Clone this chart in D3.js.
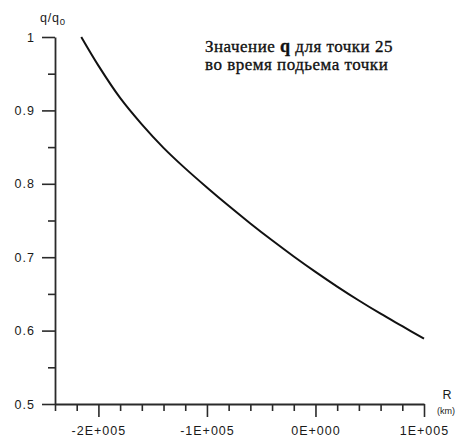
<!DOCTYPE html>
<html>
<head>
<meta charset="utf-8">
<script src="https://cdn.jsdelivr.net/npm/d3@7"></script>
<style>
  html, body { margin: 0; padding: 0; background: #fff; }
  svg { display: block; }
  .tick text { font-family: Arial, "Liberation Sans", sans-serif; font-size: 12.5px; fill: #1a1a1a; letter-spacing: 1px; }
</style>
</head>
<body>
<svg id="chart" width="457" height="438"></svg>
<script>
// Distance R (km) and normalised charge q/q0 along the curve
const rValues = [-215800, -200000, -180000, -160000, -140000, -120000, -100000, -80000,
                 -60000, -40000, -20000, 0, 20000, 40000, 60000, 80000, 100000];
const qValues = [1.000, 0.961, 0.917, 0.881, 0.849, 0.821, 0.795, 0.770,
                 0.746, 0.723, 0.701, 0.680, 0.660, 0.641, 0.623, 0.606, 0.589];

const xMajorTicks = [-200000, -100000, 0, 100000];
const yMajorTicks = [0.5, 0.6, 0.7, 0.8, 0.9, 1.0];
const yTickLabels = ["0.5", "0.6", "0.7", "0.8", "0.9", "1"];
const titleLines = [["Значение ", "q", " для точки 25"], ["во время подьема точки"]];

const svg = d3.select("#chart");
const x = d3.scaleLinear().domain([-240000, 100000]).range([55, 424]);
const y = d3.scaleLinear().domain([0.5, 1.0]).range([404, 37]);

// Scientific labels in the style "-2E+005"
function sciLabel(v) {
  if (v === 0) return "0E+000";
  const e = Math.floor(Math.log10(Math.abs(v)));
  const m = Math.round(v / Math.pow(10, e));
  return m + "E" + (e >= 0 ? "+" : "-") + String(Math.abs(e)).padStart(3, "0");
}

const axisColor = "#2a2a2a";

// Minor ticks
const xMinor = d3.range(-240000, 100001, 20000).filter(v => !xMajorTicks.includes(v));
const yMinor = d3.range(0.55, 1.0, 0.1);

svg.append("g").attr("transform", "translate(0,404)")
  .call(d3.axisBottom(x).tickValues(xMinor).tickSize(7).tickSizeOuter(0).tickFormat(""))
  .call(g => g.select(".domain").remove())
  .call(g => g.selectAll("line").attr("stroke", axisColor).attr("stroke-width", 1.6));

svg.append("g").attr("transform", "translate(55,0)")
  .call(d3.axisLeft(y).tickValues(yMinor).tickSize(7).tickSizeOuter(0).tickFormat(""))
  .call(g => g.select(".domain").remove())
  .call(g => g.selectAll("line").attr("stroke", axisColor).attr("stroke-width", 1.6));

// Major ticks with labels
const xAxis = svg.append("g").attr("transform", "translate(0,404)")
  .call(d3.axisBottom(x).tickValues(xMajorTicks).tickSize(13).tickSizeOuter(0).tickPadding(9).tickFormat(sciLabel));
xAxis.select(".domain").attr("stroke", axisColor).attr("stroke-width", 1.8);
xAxis.selectAll("line").attr("stroke", axisColor).attr("stroke-width", 1.6);

const yAxis = svg.append("g").attr("transform", "translate(55,0)")
  .call(d3.axisLeft(y).tickValues(yMajorTicks).tickSize(13).tickSizeOuter(0).tickPadding(7)
    .tickFormat((d, i) => yTickLabels[i]));
yAxis.select(".domain").attr("stroke", axisColor).attr("stroke-width", 1.8);
yAxis.selectAll("line").attr("stroke", axisColor).attr("stroke-width", 1.6);

// Curve
const line = d3.line()
  .x((d, i) => x(rValues[i]))
  .y(d => y(d))
  .curve(d3.curveCatmullRom.alpha(0.5));
svg.append("path")
  .datum(qValues)
  .attr("fill", "none")
  .attr("stroke", "#111")
  .attr("stroke-width", 2)
  .attr("d", line);

// Axis titles
const yTitle = svg.append("text")
  .attr("x", 40).attr("y", 22)
  .attr("font-family", "Arial, 'Liberation Sans', sans-serif")
  .attr("font-size", 12.5).attr("fill", "#1a1a1a").attr("letter-spacing", 0.8);
yTitle.append("tspan").text("q/q");
yTitle.append("tspan").attr("font-size", 9.5).attr("dy", 3).text("0");

svg.append("text")
  .attr("x", 447).attr("y", 399).attr("text-anchor", "middle")
  .attr("font-family", "Arial, 'Liberation Sans', sans-serif")
  .attr("font-size", 12.5).attr("fill", "#1a1a1a").text("R");
svg.append("text")
  .attr("x", 446).attr("y", 414).attr("text-anchor", "middle")
  .attr("font-family", "Arial, 'Liberation Sans', sans-serif")
  .attr("font-size", 9).attr("fill", "#1a1a1a").text("(km)");

// Title block
const title = svg.append("text")
  .attr("font-family", "'Liberation Serif', 'Times New Roman', serif")
  .attr("font-size", 17).attr("fill", "#111").attr("letter-spacing", 0.5)
  .attr("stroke", "#111").attr("stroke-width", 0.35);
titleLines.forEach((parts, li) => {
  const t = title.append("tspan").attr("x", 205).attr("y", 52 + li * 18);
  parts.forEach((p, pi) => {
    const s = pi === 0 ? t.text(p) : title.append("tspan").text(p);
    if (p === "q") s.attr("font-weight", "bold").attr("font-size", 18);
  });
});
</script>
</body>
</html>
